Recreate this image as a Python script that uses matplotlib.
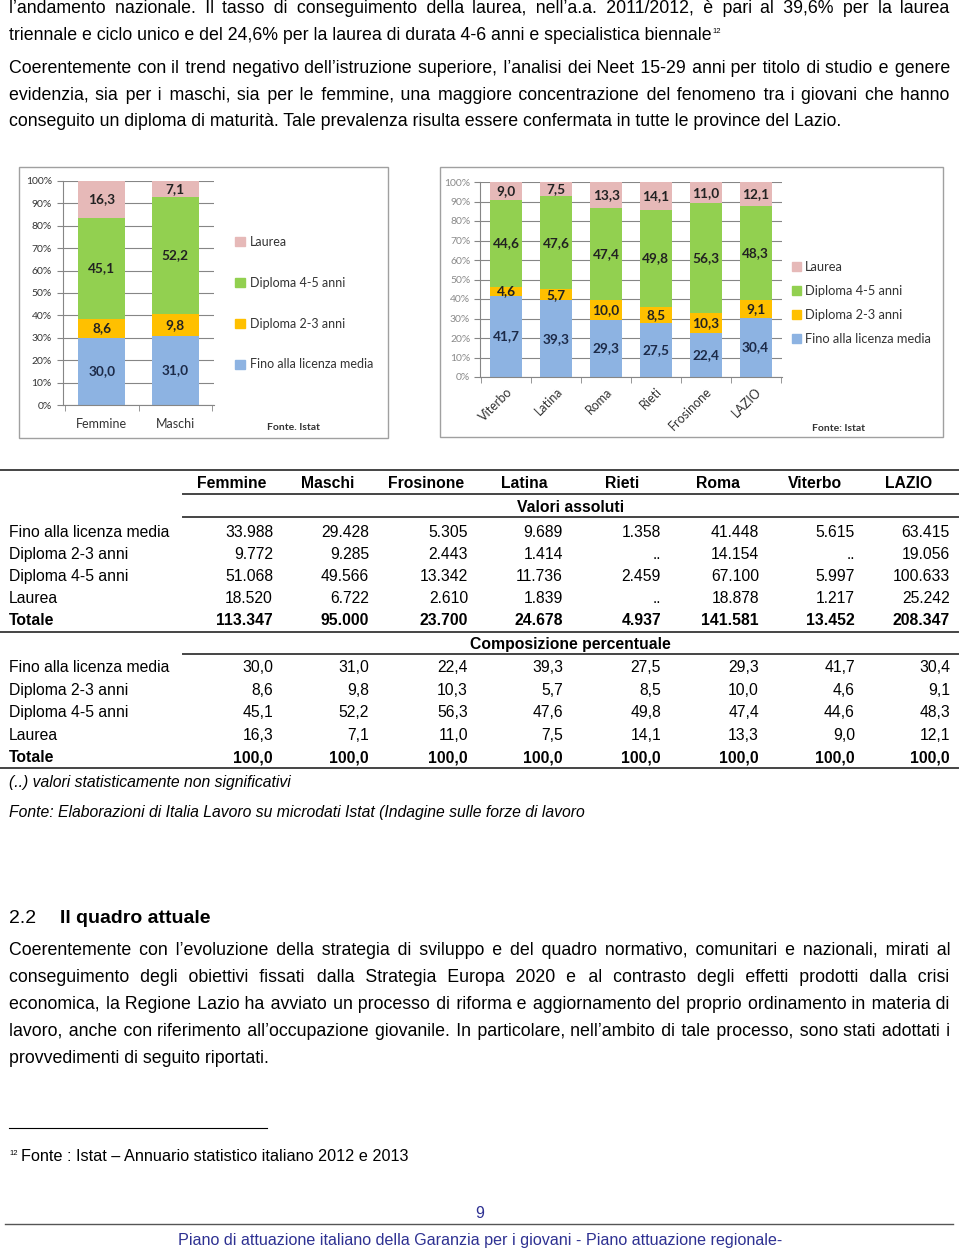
import matplotlib
matplotlib.use('Agg')
import matplotlib.pyplot as plt
import numpy as np
from matplotlib.patches import Rectangle, Patch
from matplotlib.lines import Line2D

# ---- data ----
levels = ['Fino alla licenza media', 'Diploma 2-3 anni', 'Diploma 4-5 anni', 'Laurea']
level_colors = ['#8db3e2', '#ffc000', '#92d050', '#e6b9b8']

gender_cats = ['Femmine', 'Maschi']
g_fino = [30.0, 31.0]
g_d23 = [8.6, 9.8]
g_d45 = [45.1, 52.2]
g_laurea = [16.3, 7.1]

prov_cats = ['Viterbo', 'Latina', 'Roma', 'Rieti', 'Frosinone', 'LAZIO']
p_fino = [41.7, 39.3, 29.3, 27.5, 22.4, 30.4]
p_d23 = [4.6, 5.7, 10.0, 8.5, 10.3, 9.1]
p_d45 = [44.6, 47.6, 47.4, 49.8, 56.3, 48.3]
p_laurea = [9.0, 7.5, 13.3, 14.1, 11.0, 12.1]

yticks_pct = [0, 10, 20, 30, 40, 50, 60, 70, 80, 90, 100]

table_cols = ['Femmine', 'Maschi', 'Frosinone', 'Latina', 'Rieti', 'Roma', 'Viterbo', 'LAZIO']
abs_fino = ['33.988', '29.428', '5.305', '9.689', '1.358', '41.448', '5.615', '63.415']
abs_d23 = ['9.772', '9.285', '2.443', '1.414', '..', '14.154', '..', '19.056']
abs_d45 = ['51.068', '49.566', '13.342', '11.736', '2.459', '67.100', '5.997', '100.633']
abs_laurea = ['18.520', '6.722', '2.610', '1.839', '..', '18.878', '1.217', '25.242']
abs_tot = ['113.347', '95.000', '23.700', '24.678', '4.937', '141.581', '13.452', '208.347']
pct_tot = ['100,0'] * 8

para1 = ["l\u2019andamento nazionale. Il tasso di conseguimento della laurea, nell\u2019a.a. 2011/2012, \u00e8 pari al 39,6% per la laurea",
         "triennale e ciclo unico e del 24,6% per la laurea di durata 4-6 anni e specialistica biennale"]
para2 = ["Coerentemente con il trend negativo dell\u2019istruzione superiore, l\u2019analisi dei Neet 15-29 anni per titolo di studio e genere",
         "evidenzia, sia per i maschi, sia per le femmine, una maggiore concentrazione del fenomeno tra i giovani che hanno",
         "conseguito un diploma di maturit\u00e0. Tale prevalenza risulta essere confermata in tutte le province del Lazio."]
para3 = ["Coerentemente con l\u2019evoluzione della strategia di sviluppo e del quadro normativo, comunitari e nazionali, mirati al",
         "conseguimento degli obiettivi fissati dalla Strategia Europa 2020 e al contrasto degli effetti prodotti dalla crisi",
         "economica, la Regione Lazio ha avviato un processo di riforma e aggiornamento del proprio ordinamento in materia di",
         "lavoro, anche con riferimento all\u2019occupazione giovanile. In particolare, nell\u2019ambito di tale processo, sono stati adottati i",
         "provvedimenti di seguito riportati."]

W, H = 960, 1254
BODY = ['Liberation Sans', 'DejaVu Sans']
TAB = ['Liberation Sans', 'DejaVu Sans']
CHART = ['Lato', 'DejaVu Sans']


def fx(px):
    return px / W


def fy(py):
    return 1 - py / H


fig = plt.figure(figsize=(9.6, 12.54), dpi=100)
fig.patch.set_facecolor('white')
renderer = fig.canvas.get_renderer()


def text_width(s, **kw):
    t = fig.text(0, 0, s, **kw)
    w = t.get_window_extent(renderer=renderer).width
    t.remove()
    return w


def line(y, s, last=False, x0=9, x1=950, **kw):
    # justified line: pad the word gaps with hair spaces so it stays one text
    if not last:
        words = s.split(' ')
        n = len(words) - 1
        filler, fw = '\u200a', 0
        for ch in ['\u200a', '\u2009', '\u2006']:
            fw = text_width('a' + ch + 'a', **kw) - text_width('aa', **kw)
            if fw > 0.5:
                filler = ch
                break
        extra = (x1 - x0 - text_width(s, **kw)) / fw
        parts = [words[0]]
        for i, w in enumerate(words[1:], 1):
            k = int(round(extra * i / n)) - int(round(extra * (i - 1) / n))
            parts.append(' ' + filler * max(k, 0) + w)
        s = ''.join(parts)
    fig.text(fx(x0), fy(y), s, va='baseline', **kw)
    return x0 + text_width(s, **kw)


body_kw = dict(family=BODY, fontsize=12.8, color='black')

# ---- paragraphs ----
line(13, para1[0], **body_kw)
xe = line(40, para1[1], last=True, **body_kw)
fig.text(fx(xe + 1), fy(33), '12', family=BODY, fontsize=5.5, va='baseline')
line(73, para2[0], **body_kw)
line(100, para2[1], **body_kw)
line(126, para2[2], last=True, **body_kw)


# ---- charts ----
def stacked(ax, cats, series, width):
    x = np.arange(len(cats))
    bottom = np.zeros(len(cats))
    for vals, col, lab in zip(series, level_colors, levels):
        vals = np.array(vals)
        bars = ax.bar(x, vals, width, bottom=bottom, color=col, label=lab, zorder=2)
        ax.bar_label(bars, labels=[f'{v:.1f}'.replace('.', ',') for v in vals],
                     label_type='center', family=CHART, fontsize=9.8, fontweight='bold',
                     color='#1c2a48' if lab == levels[0] else '#222222')
        bottom += vals
    ax.set_xlim(-0.53, len(cats) - 0.47)
    ax.set_ylim(0, 100)
    ax.set_yticks(yticks_pct)
    ax.set_yticklabels([f'{v}%' for v in yticks_pct])
    ax.set_xticks(x)
    ax.set_xticks(np.arange(len(cats) + 1) - 0.5, minor=True)
    ax.tick_params(axis='x', which='major', length=0)
    ax.tick_params(axis='x', which='minor', length=4, color='#868686')
    ax.tick_params(axis='y', length=4, color='#868686')
    ax.grid(axis='y', color='#868686', lw=0.8, zorder=0)
    for s in ['top', 'right']:
        ax.spines[s].set_visible(False)
    for s in ['left', 'bottom']:
        ax.spines[s].set_color('#868686')
    ax.set_facecolor('white')
    return x


# chart 1
fig.add_artist(Rectangle((fx(19), fy(438)), fx(388) - fx(19), fy(167) - fy(438),
                         transform=fig.transFigure, fill=False, ec='#a0a0a0', lw=1))
ax1 = fig.add_axes([fx(63), fy(405), fx(214) - fx(63), fy(181) - fy(405)])
stacked(ax1, gender_cats, [g_fino, g_d23, g_d45, g_laurea], 0.64)
ax1.set_xticklabels(gender_cats, family=CHART, fontsize=9, color='#333333')
ax1.tick_params(axis='x', which='major', pad=9)
for t in ax1.get_yticklabels():
    t.set_family(CHART)
    t.set_fontsize(7.5)
    t.set_color('#333333')
ax1.tick_params(axis='y', pad=4)
h1 = [Patch(color=c) for c in level_colors][::-1]
fig.legend(h1, levels[::-1], loc='upper left', bbox_to_anchor=(fx(224), fy(225)),
           frameon=False, prop=dict(family=CHART, size=9), labelspacing=2.3,
           handlelength=0.75, handleheight=0.75, handletextpad=0.4, labelcolor='#333333')
fig.text(fx(267), fy(428), 'Fonte. Istat', family=CHART, fontsize=7.5,
         fontweight='bold', color='#333333', va='center')

# chart 2
fig.add_artist(Rectangle((fx(440), fy(437)), fx(943) - fx(440), fy(167) - fy(437),
                         transform=fig.transFigure, fill=False, ec='#a0a0a0', lw=1))
ax2 = fig.add_axes([fx(480), fy(377), fx(782) - fx(480), fy(182) - fy(377)])
stacked(ax2, prov_cats, [p_fino, p_d23, p_d45, p_laurea], 0.64)
ax2.set_xticklabels(prov_cats, family=CHART, fontsize=9, color='#333333',
                    rotation=45, ha='right', rotation_mode='anchor')
ax2.tick_params(axis='x', which='major', pad=6)
for t in ax2.get_yticklabels():
    t.set_family(CHART)
    t.set_fontsize(7.5)
    t.set_color('#8a8a8a')
ax2.tick_params(axis='y', pad=3)
fig.legend(h1, levels[::-1], loc='upper left', bbox_to_anchor=(fx(780), fy(249)),
           frameon=False, prop=dict(family=CHART, size=9.3), labelspacing=0.95,
           handlelength=0.7, handleheight=0.7, handletextpad=0.35, labelcolor='#333333')
fig.text(fx(812), fy(429), 'Fonte: Istat', family=CHART, fontsize=7.5,
         fontweight='bold', color='#333333', va='center')

# ---- table ----
tab_kw = dict(family=TAB, fontsize=11.3, color='black')
head_x = [232, 328, 426, 524, 622, 718, 815, 909]
right_x = [273, 369, 468, 563, 661, 759, 855, 950]


def hline(y, x0, x1=958, lw=1.4):
    fig.add_artist(Line2D([fx(x0), fx(x1)], [fy(y), fy(y)], transform=fig.transFigure,
                          color='#444444', lw=lw))


hline(470, 0)
for c, xc in zip(table_cols, head_x):
    fig.text(fx(xc), fy(484), c, ha='center', va='center', fontweight='bold', **tab_kw)
hline(494, 183)
fig.text(fx(571), fy(508), 'Valori assoluti', ha='center', va='center', fontweight='bold', **tab_kw)
hline(517, 183)


def table_row(y, label, vals, bold=False):
    fw = 'bold' if bold else 'normal'
    fig.text(fx(9), fy(y), label, ha='left', va='center', fontweight=fw, **tab_kw)
    for v, xr in zip(vals, right_x):
        fig.text(fx(xr), fy(y), v, ha='right', va='center', fontweight=fw, **tab_kw)


abs_rows = [abs_fino, abs_d23, abs_d45, abs_laurea]
for i, (lab, vals) in enumerate(zip(levels, abs_rows)):
    table_row(532 + i * 22.2, lab, vals)
table_row(620, 'Totale', abs_tot, bold=True)
hline(632, 0)
fig.text(fx(570), fy(645), 'Composizione percentuale', ha='center', va='center',
         fontweight='bold', **tab_kw)
hline(654, 183)

# percentages in table order, taken from the chart series
order = [prov_cats.index(c) for c in table_cols[2:]]
pct_series = [(g_fino, p_fino), (g_d23, p_d23), (g_d45, p_d45), (g_laurea, p_laurea)]
for i, (lab, (g, p)) in enumerate(zip(levels, pct_series)):
    vals = list(g) + [p[j] for j in order]
    table_row(668 + i * 22.5, lab, [f'{v:.1f}'.replace('.', ',') for v in vals])
table_row(758, 'Totale', pct_tot, bold=True)
hline(768, 0)
fig.text(fx(9), fy(782), '(..) valori statisticamente non significativi', ha='left',
         va='center', style='italic', **tab_kw)
fig.text(fx(9), fy(813), 'Fonte: Elaborazioni di Italia Lavoro su microdati Istat (Indagine sulle forze di lavoro',
         ha='left', va='center', style='italic', **tab_kw)

# ---- section 2.2 ----
fig.text(fx(9), fy(923), '2.2', family=BODY, fontsize=14, va='baseline')
fig.text(fx(60), fy(923), 'Il quadro attuale', family=BODY, fontsize=14,
         fontweight='bold', va='baseline')
for i, s in enumerate(para3):
    line(955 + i * 27, s, last=(i == len(para3) - 1), **body_kw)

# footnote
fig.add_artist(Line2D([fx(9), fx(267)], [fy(1128), fy(1128)], transform=fig.transFigure,
                      color='black', lw=0.8))
fig.text(fx(9), fy(1155), '12', family=BODY, fontsize=5.5, va='baseline')
fig.text(fx(21), fy(1161), 'Fonte : Istat \u2013 Annuario statistico italiano 2012 e 2013',
         family=BODY, fontsize=11.7, va='baseline')

# page footer
fig.text(fx(480), fy(1213), '9', family=BODY, fontsize=11.5, color='#2e3192',
         ha='center', va='center')
fig.add_artist(Line2D([fx(5), fx(953)], [fy(1224), fy(1224)], transform=fig.transFigure,
                      color='#555555', lw=1))
fig.text(fx(480), fy(1240), 'Piano di attuazione italiano della Garanzia per i giovani - Piano attuazione regionale-',
         family=BODY, fontsize=11.6, color='#2e3192', ha='center', va='center')

fig.savefig('out.png', dpi=100)
